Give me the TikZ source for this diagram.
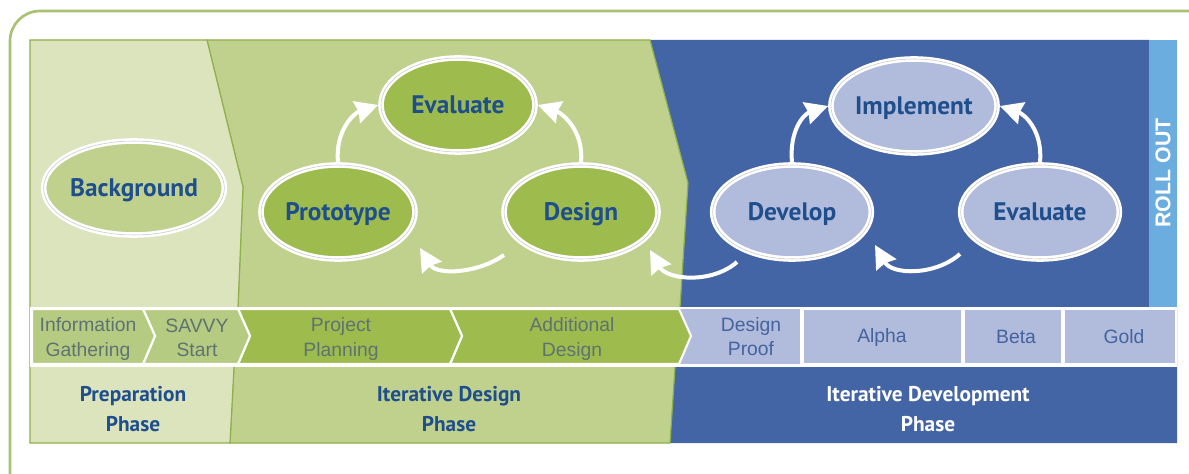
\documentclass[tikz,border=0pt]{standalone}
\usepackage{fontspec}
\setmainfont{PT Sans}
\newfontfamily\stripfont{Liberation Sans}
\usetikzlibrary{shapes.geometric,arrows.meta}
\definecolor{framegreen}{HTML}{A9C272}
\definecolor{lightgreen}{HTML}{DCE4BE}
\definecolor{midgreen}{HTML}{C0D18E}
\definecolor{stripgreen}{HTML}{B6CB82}
\definecolor{deepgreen}{HTML}{9EBB4D}
\definecolor{edgegreen}{HTML}{8FB04A}
\definecolor{bandblue}{HTML}{4465A5}
\definecolor{paleblue}{HTML}{B1BBDB}
\definecolor{skyblue}{HTML}{6CADE0}
\definecolor{inkblue}{HTML}{1F4E8C}
\definecolor{stripgrey}{HTML}{5F7272}
\definecolor{stripblue}{HTML}{44639F}
\tikzset{
  loop/.style={ellipse,draw=white,line width=4.2pt,inner sep=0pt,minimum width=115.5pt,minimum height=70.5pt,
     text height=13.5pt,text depth=0pt,
     text=inkblue,font=\fontsize{19}{22}\selectfont\bfseries,
     postaction={draw=gray!45,line width=.4pt}},
  wideloop/.style={loop,minimum width=119pt},
  cycle/.style={draw=white,line width=3pt,-{Stealth[length=17pt,width=17pt,inset=1.5pt]}},
  cell/.style={fill=#1,draw=white,line width=1.6pt},
  striptext/.style={align=center,font=\stripfont\fontsize{14.5}{18}\selectfont,text=stripgrey},
  phase/.style={align=center,font=\fontsize{16}{22.5}\selectfont\bfseries,text=#1},
}
\begin{document}
\begin{tikzpicture}[x=.75pt,y=-.75pt]
\useasboundingbox (0,0) rectangle (1189,474);
\fill[white] (0,0) rectangle (1189,474);
% outer frame
\draw[framegreen,line width=2pt] (10,480) -- (10,41) arc[start angle=180,end angle=270,radius=30] -- (1195,11);
% phase backgrounds
\fill[bandblue] (650,40) -- (1150,40) -- (1150,307) -- (1177,307) -- (1177,443) -- (670,443) -- (675,367) -- (680,307) -- (688,183) -- cycle;
\fill[skyblue] (1149,40) rectangle (1177,307);
\fill[midgreen,draw=edgegreen,line width=.9pt] (207,40) -- (650,40) -- (688,183) -- (680,307) -- (675,367) -- (670,443) -- (230,443) -- (234,367) -- (238,307) -- (243,187) -- cycle;
\fill[lightgreen,draw=edgegreen,line width=.9pt] (30,40) -- (207,40) -- (243,187) -- (238,307) -- (234,367) -- (230,443) -- (30,443) -- cycle;
% strip
\fill[white] (30,307) rectangle (1177,367);
\fill[paleblue] (680,309) rectangle (800,364);
\fill[paleblue] (804,310) rectangle (961,363);
\fill[paleblue] (965,310) rectangle (1061,363);
\fill[paleblue] (1065,310) rectangle (1175,363);
\filldraw[cell=deepgreen] (450,309) -- (679,309) -- (691,336) -- (679,364) -- (450,364) -- (462,336) -- cycle;
\filldraw[cell=deepgreen] (238,309) -- (450,309) -- (462,336) -- (450,364) -- (238,364) -- (250,336) -- cycle;
\filldraw[cell=stripgreen] (143,309) -- (238,309) -- (250,336) -- (238,364) -- (143,364) -- (155,336) -- cycle;
\filldraw[cell=stripgreen] (32,309) -- (143,309) -- (155,336) -- (143,364) -- (32,364) -- cycle;
\node[striptext] (info) at (88,339) {Information\\Gathering};
\node[striptext] (savvy) at (197,338) {SAVVY\\Start};
\node[striptext] (plan) at (341,339) {Project\\Planning};
\node[striptext] (adddes) at (572,339) {Additional\\Design};
\node[striptext,text=stripblue] (proof) at (751,337) {Design\\Proof};
\node[striptext,text=stripblue] (alpha) at (882,338) {Alpha};
\node[striptext,text=stripblue] (beta) at (1016,337) {Beta};
\node[striptext,text=stripblue] (gold) at (1124,337) {Gold};
% phase labels
\node[phase=inkblue] (prep) at (133,409) {Preparation\\Phase};
\node[phase=inkblue] (iterd) at (449,409) {Iterative Design\\Phase};
\node[phase=white] (iterdev) at (928,409) {Iterative Development\\Phase};
\node[rotate=90,text=white,font=\stripfont\bfseries\fontsize{16}{18}\selectfont] (roll) at (1163,173) {ROLL OUT};
% ellipses
\node[loop,fill=midgreen] (bg) at (134,188) {Background};
\node[loop,fill=deepgreen] (proto) at (338,212) {Prototype};
\node[loop,fill=deepgreen] (evalA) at (458,105) {Evaluate};
\node[loop,fill=deepgreen] (design) at (581,212) {Design};
\node[wideloop,fill=paleblue] (devel) at (792,212) {Develop};
\node[wideloop,fill=paleblue] (impl) at (914,106) {Implement};
\node[wideloop,fill=paleblue] (evalB) at (1040,212) {Evaluate};
% free ends of the lower arrows
\coordinate (a1s) at (504,255); \coordinate (a1e) at (420,248);
\coordinate (a2s) at (737,262); \coordinate (a2e) at (650,250);
\coordinate (a3s) at (960,254); \coordinate (a3e) at (875,245);
% cycle arrows
\draw[cycle] (proto.north) .. controls +(-3,-32) and +(-24,8) .. (evalA.west);
\draw[cycle] (design.north) .. controls +(3,-32) and +(24,8) .. (evalA.east);
\draw[cycle] (devel.north) .. controls +(-3,-32) and +(-24,8) .. (impl.west);
\draw[cycle] (evalB.north) .. controls +(3,-32) and +(24,8) .. (impl.east);
\draw[cycle] (a1s) .. controls +(-25,18) and +(17,28) .. (a1e);
\draw[cycle] (a2s) .. controls +(-25,22) and +(17,30) .. (a2e);
\draw[cycle] (a3s) .. controls +(-25,22) and +(17,30) .. (a3e);
\end{tikzpicture}
\end{document}
